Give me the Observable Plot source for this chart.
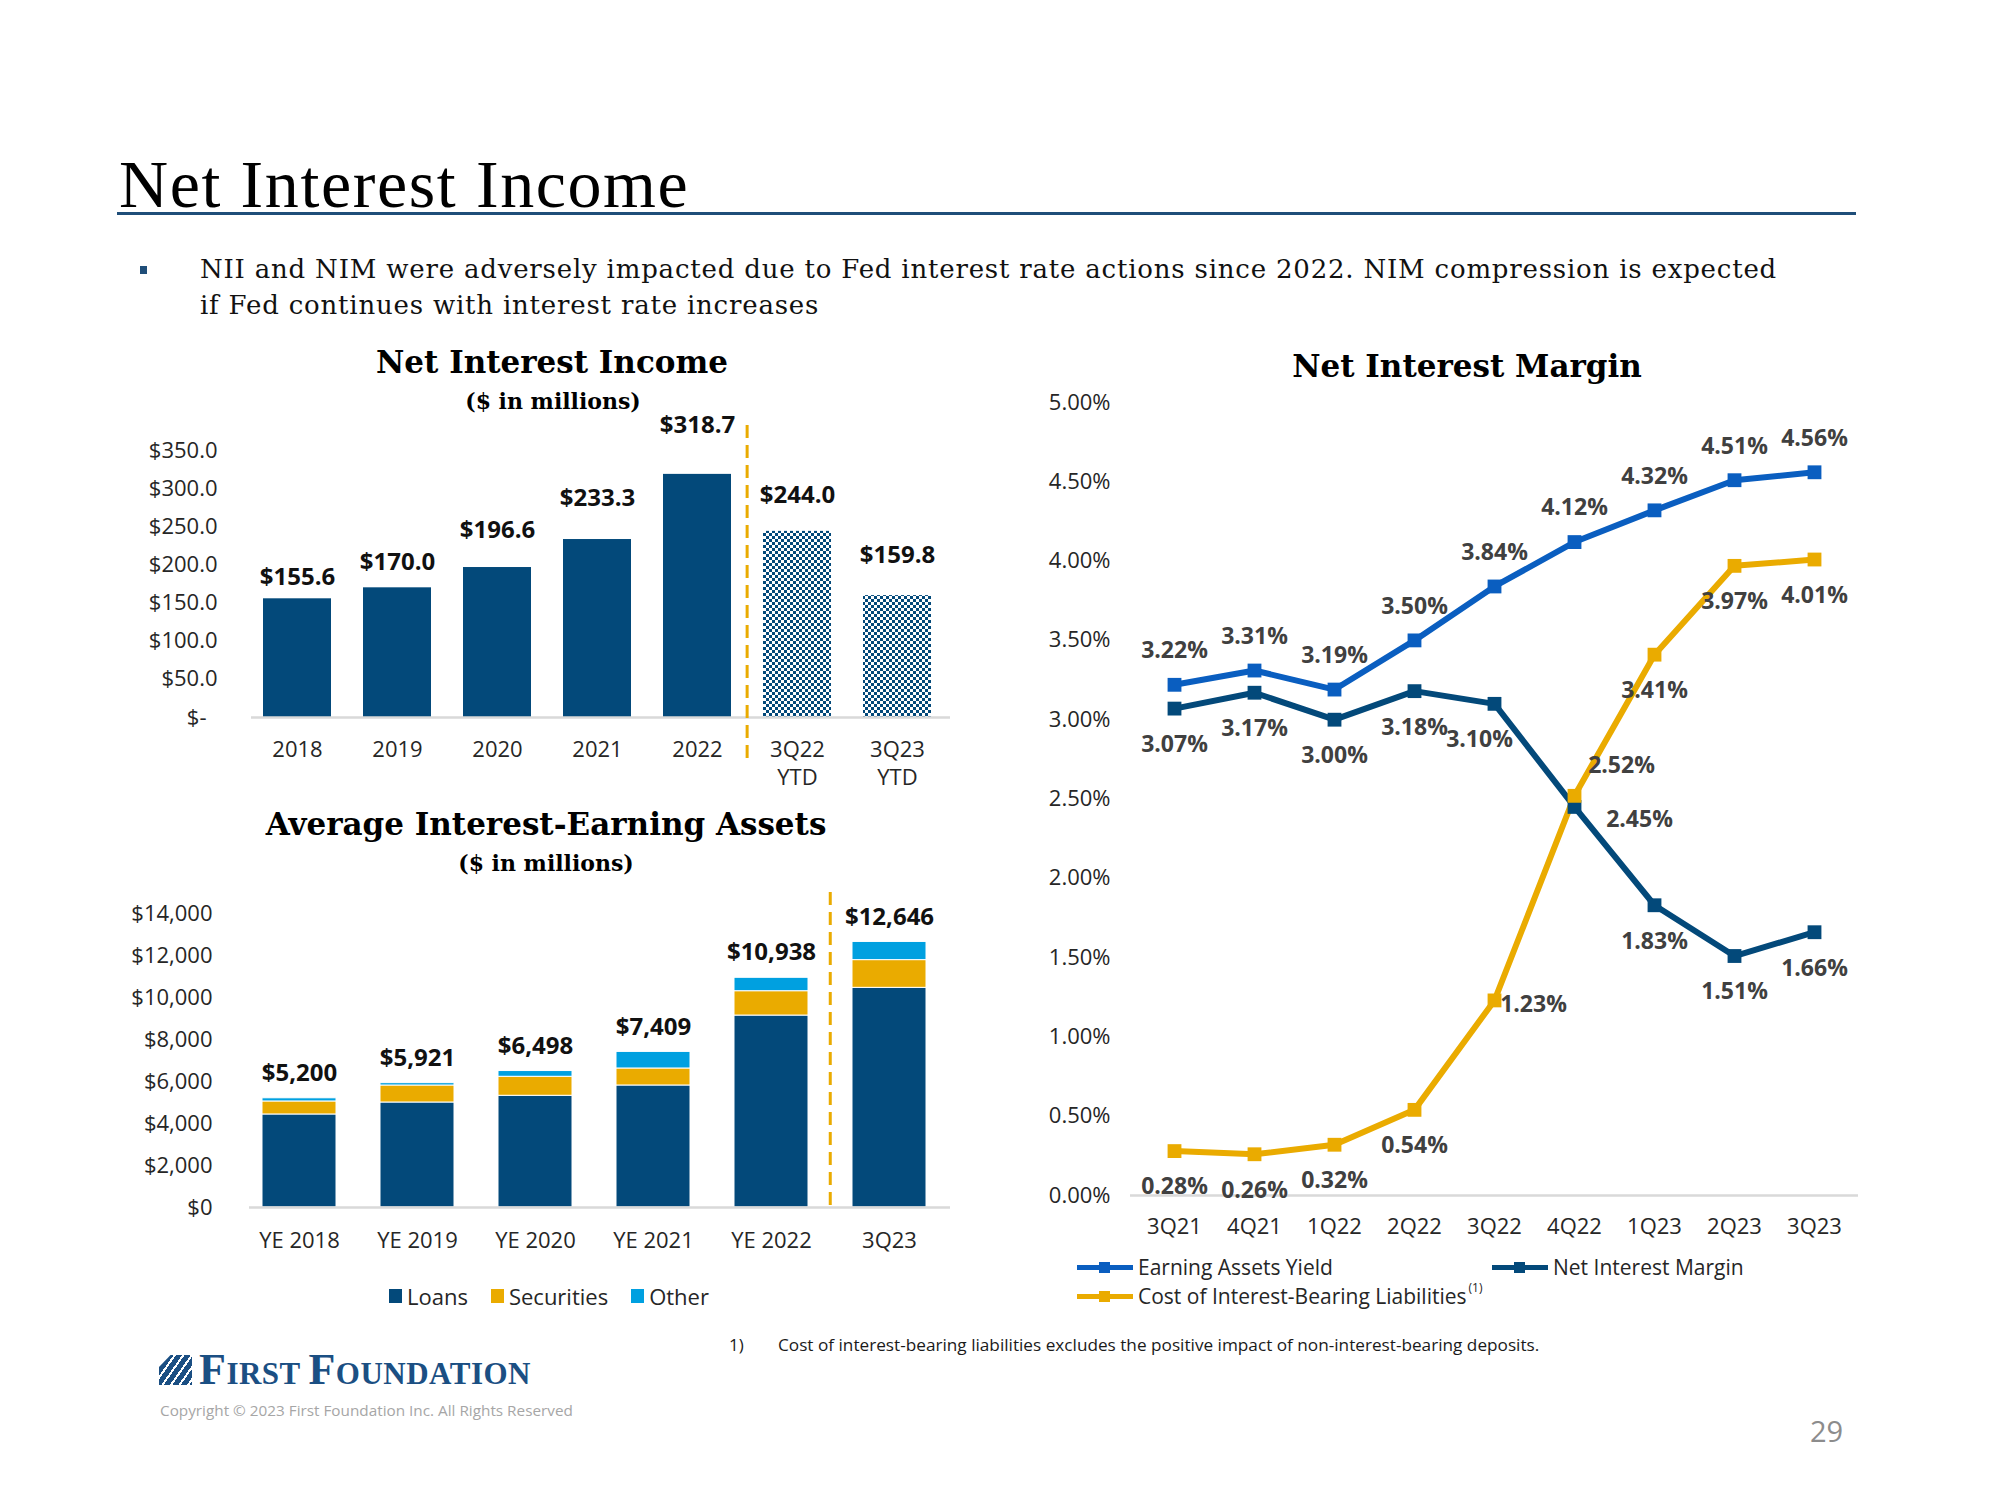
<!DOCTYPE html>
<html><head><meta charset="utf-8">
<script src="https://cdn.jsdelivr.net/npm/d3@7"></script>
<script src="https://cdn.jsdelivr.net/npm/@observablehq/plot@0.6"></script>
<style>
html,body{margin:0;padding:0;background:#fff;}
#page{position:relative;width:2000px;height:1500px;background:#fff;overflow:hidden;font-family:"Open Sans",sans-serif;}
.t{position:absolute;white-space:nowrap;line-height:1;}
.chart{position:absolute;}
.chart svg{overflow:visible;}
</style></head><body>
<svg width="0" height="0" style="position:absolute">
<defs><pattern id="checker" patternUnits="userSpaceOnUse" width="6" height="6">
<rect width="6" height="6" fill="#ffffff"/><rect width="3" height="3" fill="#03497A"/><rect x="3" y="3" width="3" height="3" fill="#03497A"/></pattern></defs></svg>
<div id="page"></div>
<script>
// ---------------- DATA ----------------
const niiCategories = ["2018","2019","2020","2021","2022","3Q22\nYTD","3Q23\nYTD"];
const niiValues = [155.6,170.0,196.6,233.3,318.7,244.0,159.8];
const niiYtdCategories = ["3Q22\nYTD","3Q23\nYTD"];
const niiTicks = [0,50,100,150,200,250,300,350];

const aieaCategories = ["YE 2018","YE 2019","YE 2020","YE 2021","YE 2022","3Q23"];
const aieaSeries = ["Loans","Securities","Other"];
const aieaLoans = [4430,5000,5320,5810,9140,10460];
const aieaSecurities = [620,810,905,810,1160,1320];
const aieaOther = [150,111,273,789,638,866];
const aieaTotals = [5200,5921,6498,7409,10938,12646];
const aieaTicks = [0,2000,4000,6000,8000,10000,12000,14000];

const nimQuarters = ["3Q21","4Q21","1Q22","2Q22","3Q22","4Q22","1Q23","2Q23","3Q23"];
const nimSeries = ["Earning Assets Yield","Net Interest Margin","Cost of Interest-Bearing Liabilities"];
const earningAssetsYield = [3.22,3.31,3.19,3.50,3.84,4.12,4.32,4.51,4.56];
const netInterestMargin = [3.07,3.17,3.00,3.18,3.10,2.45,1.83,1.51,1.66];
const costOfLiabilities = [0.28,0.26,0.32,0.54,1.23,2.52,3.41,3.97,4.01];
const nimTicks = [0,0.5,1,1.5,2,2.5,3,3.5,4,4.5,5];

// ---------------- STYLE ----------------
const NAVY = "#03497A", GOLD = "#EAAB00", SKY = "#00A0E0", BLUE = "#0A5EC0";
const AXIS_TEXT = "#262626";
const niiLabelLift = [21,26,37,41,49,36,40];
const nimLabelDefault = {"Earning Assets Yield":[0,-34], "Net Interest Margin":[0,36], "Cost of Interest-Bearing Liabilities":[0,36]};
const nimLabelNudge = {"Net Interest Margin|3Q22":[-15,36], "Net Interest Margin|4Q22":[65,13],
  "Cost of Interest-Bearing Liabilities|3Q22":[39,4], "Cost of Interest-Bearing Liabilities|4Q22":[47,-30]};

const page = document.getElementById("page");
const SERIF = "'Liberation Serif', serif", DJV = "'DejaVu Serif', serif", SANS = "'Open Sans', sans-serif";
const ASC = {serif:0.8375, djv:0.846, sans:0.888};
function txt(content, o) {
  const d = document.createElement("div");
  d.className = "t";
  if (o.html) d.innerHTML = content; else d.textContent = content;
  const F = o.size;
  Object.assign(d.style, {fontSize:F+"px", fontFamily:o.family, fontWeight:o.weight||"normal", color:o.color||"#000", top:(o.baseline - o.asc*F)+"px"});
  if (o.ls != null) d.style.letterSpacing = o.ls+"px";
  if (o.align === "center") { d.style.left = (o.x-600)+"px"; d.style.width = "1200px"; d.style.textAlign = "center"; }
  else d.style.left = o.x+"px";
  page.appendChild(d);
  return d;
}
function box(o) {
  const d = document.createElement("div");
  Object.assign(d.style, {position:"absolute", left:o.left+"px", top:o.top+"px", width:o.width+"px", height:o.height+"px", background:o.bg});
  page.appendChild(d);
  return d;
}
function mount(svg, left, top) {
  const d = document.createElement("div");
  d.className = "chart"; d.style.left = left+"px"; d.style.top = top+"px";
  d.appendChild(svg); page.appendChild(d);
}

// ---------------- HEADER ----------------
txt("Net Interest Income", {x:119, baseline:207, size:68, family:SERIF, asc:ASC.serif, color:"#000", ls:1.6});
box({left:117, top:212, width:1739, height:2.5, bg:"#1F4E79"});
box({left:140, top:266, width:7, height:8, bg:"#1F4E79"});
txt("NII and NIM were adversely impacted due to Fed interest rate actions since 2022. NIM compression is expected", {x:200, baseline:278, size:26, family:DJV, asc:ASC.djv, color:"#111", ls:0.8});
txt("if Fed continues with interest rate increases", {x:200, baseline:314, size:26, family:DJV, asc:ASC.djv, color:"#111", ls:0.8});

// ---------------- NII CHART ----------------
txt("Net Interest Income", {x:552, baseline:373, size:31, weight:"bold", family:DJV, asc:ASC.djv, align:"center"});
txt("($ in millions)", {x:553, baseline:409, size:22, weight:"bold", family:DJV, asc:ASC.djv, align:"center"});
{
  const W = 880, H = 400, ML = 151, MR = 30, PI = 0.32, PO = 0.129;
  const step = (W-ML-MR)/(niiCategories.length - PI + 2*PO);
  const nii = niiCategories.map((cat,i) => ({cat, value:niiValues[i]}));
  const svg = Plot.plot({
    width:W, height:H, marginLeft:ML, marginRight:MR, marginTop:40, marginBottom:93,
    style:{fontFamily:SANS, fontSize:"22px", color:AXIS_TEXT, background:"transparent", overflow:"visible"},
    x:{domain:niiCategories, paddingInner:PI, paddingOuter:PO, align:0.38, label:null},
    y:{domain:[0,350], label:null},
    marks:[
      Plot.barY(nii.filter(d => !niiYtdCategories.includes(d.cat)), {x:"cat", y:"value", fill:NAVY}),
      Plot.barY(nii.filter(d => niiYtdCategories.includes(d.cat)), {x:"cat", y:"value", fill:"url(#checker)"}),
      Plot.ruleY([0], {stroke:"#D9D9D9", strokeWidth:2.5}),
      Plot.axisY({ticks:niiTicks, tickSize:0, tickPadding:34, tickFormat:d => d === 0 ? "$-\u2002" : "$"+d.toFixed(1)}),
      Plot.axisX({tickSize:0, tickPadding:19, lineHeight:1.3}),
      Plot.ruleX([niiYtdCategories[0]], {x:d => d, dx:-step/2, stroke:GOLD, strokeWidth:3, strokeDasharray:"13,7", insetTop:-25, insetBottom:-42}),
      ...niiCategories.map((c,i) => Plot.text(nii.filter(d => d.cat === c), {x:"cat", y:"value", text:d => "$"+d.value.toFixed(1), dy:-niiLabelLift[i], fontWeight:"bold", fontSize:24, fill:"#111"}))
    ]
  });
  mount(svg, 100, 410);
}

// ---------------- AIEA CHART ----------------
txt("Average Interest-Earning Assets", {x:546, baseline:835, size:31, weight:"bold", family:DJV, asc:ASC.djv, align:"center"});
txt("($ in millions)", {x:546, baseline:871, size:22, weight:"bold", family:DJV, asc:ASC.djv, align:"center"});
{
  const W = 880, H = 400, ML = 149, MR = 30, PI = 0.375, PO = 0.1455;
  const step = (W-ML-MR)/(aieaCategories.length - PI + 2*PO);
  const seriesValues = [aieaLoans, aieaSecurities, aieaOther];
  const rows = aieaCategories.flatMap((cat,i) => aieaSeries.map((s,si) => ({cat, series:s, value:seriesValues[si][i]})));
  const totals = aieaCategories.map((cat,i) => ({cat, total:aieaTotals[i]}));
  const svg = Plot.plot({
    width:W, height:H, marginLeft:ML, marginRight:MR, marginTop:33, marginBottom:73,
    style:{fontFamily:SANS, fontSize:"22px", color:AXIS_TEXT, background:"transparent", overflow:"visible"},
    x:{domain:aieaCategories, paddingInner:PI, paddingOuter:PO, align:0.36, label:null},
    y:{domain:[0,14000], label:null},
    color:{domain:aieaSeries, range:[NAVY, GOLD, SKY]},
    marks:[
      Plot.barY(rows, {x:"cat", y:"value", fill:"series", stroke:"#ffffff", strokeWidth:1}),
      Plot.ruleY([0], {stroke:"#D9D9D9", strokeWidth:2.5}),
      Plot.axisY({ticks:aieaTicks, tickSize:0, tickPadding:37, tickFormat:d => "$"+d3.format(",")(d)}),
      Plot.axisX({tickSize:0, tickPadding:25}),
      Plot.ruleX([aieaCategories[5]], {x:d => d, dx:-step/2, stroke:GOLD, strokeWidth:3, strokeDasharray:"13,7", insetTop:-21}),
      Plot.text(totals, {x:"cat", y:"total", text:d => "$"+d3.format(",")(d.total), dy:-25, fontWeight:"bold", fontSize:24, fill:"#111"})
    ]
  });
  mount(svg, 100, 880);
  // legend
  const lg = document.createElement("div");
  Object.assign(lg.style, {position:"absolute", left:"389px", top:"1281px", height:"30px", display:"flex", alignItems:"center", fontFamily:SANS, fontSize:"22px", color:AXIS_TEXT});
  const colors = [NAVY, GOLD, SKY];
  aieaSeries.forEach((s,i) => {
    const sw = document.createElement("span");
    Object.assign(sw.style, {display:"inline-block", width:"13px", height:"14px", background:colors[i], marginRight:"5px"});
    const tx = document.createElement("span");
    tx.textContent = s; tx.style.marginRight = "23px"; tx.style.lineHeight = "1";
    lg.appendChild(sw); lg.appendChild(tx);
  });
  page.appendChild(lg);
}

// ---------------- NIM CHART ----------------
txt("Net Interest Margin", {x:1467, baseline:377, size:31, weight:"bold", family:DJV, asc:ASC.djv, align:"center"});
{
  const W = 880, H = 880;
  const seriesValues = [earningAssetsYield, netInterestMargin, costOfLiabilities];
  const rows = nimSeries.flatMap((s,si) => nimQuarters.map((q,i) => ({q, series:s, value:seriesValues[si][i]})));
  const off = d => nimLabelNudge[d.series+"|"+d.q] || nimLabelDefault[d.series];
  const groups = d3.groups(rows, d => off(d).join(","));
  const labelMarks = groups.map(([key, g]) => {
    const [dx, dy] = key.split(",").map(Number);
    return Plot.text(g, {x:"q", y:"value", text:d => d.value.toFixed(2)+"%", dx, dy, fontWeight:"bold", fontSize:23, fill:"#404040"});
  });
  const svg = Plot.plot({
    width:W, height:H, marginLeft:130, marginRight:22, marginTop:22, marginBottom:65,
    style:{fontFamily:SANS, fontSize:"22px", color:AXIS_TEXT, background:"transparent", overflow:"visible"},
    x:{type:"point", domain:nimQuarters, padding:0.5, label:null},
    y:{domain:[0,5], label:null},
    color:{domain:nimSeries, range:[BLUE, NAVY, GOLD]},
    marks:[
      Plot.ruleY([0], {stroke:"#D9D9D9", strokeWidth:2.5}),
      Plot.line(rows, {x:"q", y:"value", stroke:"series", strokeWidth:6, strokeLinejoin:"round"}),
      Plot.dot(rows, {x:"q", y:"value", fill:"series", symbol:"square", r:7.8}),
      Plot.axisY({ticks:nimTicks, tickSize:0, tickPadding:20, tickFormat:d => d.toFixed(2)+"%"}),
      Plot.axisX({tickSize:0, tickPadding:23}),
      ...labelMarks
    ]
  });
  mount(svg, 1000, 380);
  // legend
  const colors = [BLUE, NAVY, GOLD];
  const pos = [[1077, 1138, 1276], [1492, 1553, 1276], [1077, 1138, 1305]];
  nimSeries.forEach((s,i) => {
    const [sx, tx, base] = pos[i];
    const cy = base - 9;
    box({left:sx, top:cy-2.5, width:56, height:5, bg:colors[i]});
    box({left:sx+22, top:cy-5.5, width:11, height:11, bg:colors[i]});
    const t = txt(s, {x:tx, baseline:base, size:21, family:SANS, asc:ASC.sans, color:AXIS_TEXT});
    if (i === 2) {
      const sup = document.createElement("span");
      sup.textContent = "(1)";
      Object.assign(sup.style, {fontSize:"12px", position:"relative", top:"-12px", marginLeft:"2px"});
      t.appendChild(sup);
    }
  });
}

// ---------------- FOOTER ----------------
txt("1)", {x:729, baseline:1351, size:17, family:SANS, asc:ASC.sans, color:"#1a1a1a"});
txt("Cost of interest-bearing liabilities excludes the positive impact of non-interest-bearing deposits.", {x:778, baseline:1351, size:17.2, family:SANS, asc:ASC.sans, color:"#1a1a1a"});
{
  const icon = box({left:159, top:1355, width:33, height:30, bg:"#1B4F83"});
  icon.style.background = "repeating-linear-gradient(125deg, #1B4F83 0px, #1B4F83 5px, #ffffff 5px, #ffffff 7px)";
  icon.style.clipPath = "polygon(35% 0, 100% 0, 100% 100%, 0 100%, 0 40%)";
  txt('F<span style="font-size:31px">IRST </span>F<span style="font-size:31px">OUNDATION</span>', {html:true, x:199, baseline:1385, size:44, weight:"bold", family:SERIF, asc:ASC.serif, color:"#1B4F83", ls:0.5});
}
txt("Copyright \u00A9 2023 First Foundation Inc. All Rights Reserved", {x:160, baseline:1417, size:15.3, family:SANS, asc:ASC.sans, color:"#A6A6A6"});
txt("29", {x:1810, baseline:1442, size:29, family:SANS, asc:ASC.sans, color:"#8C8C8C"});
</script>
</body></html>
